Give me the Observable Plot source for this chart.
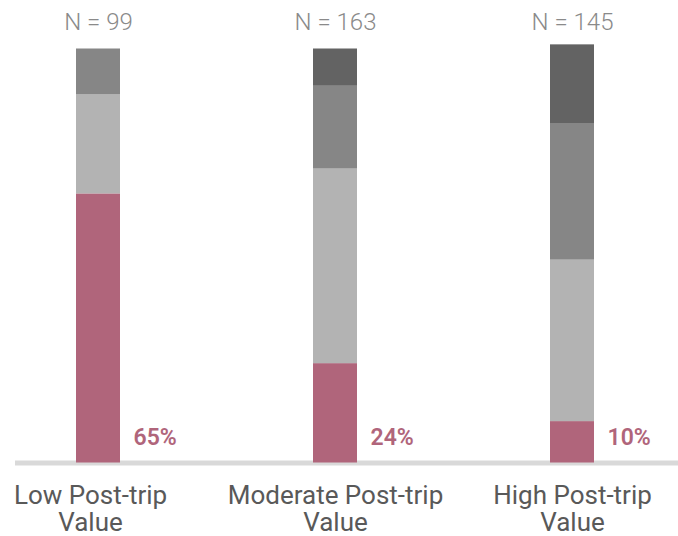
<!DOCTYPE html>
<html><head><meta charset="utf-8">
<script src="https://cdn.jsdelivr.net/npm/d3@7"></script>
<script src="https://cdn.jsdelivr.net/npm/@observablehq/plot@0.6"></script>
<style>html,body{margin:0;padding:0;background:#fff}</style>
</head><body><div id="chart"></div>
<script>
const categories = ["Low Post-trip Value", "Moderate Post-trip Value", "High Post-trip Value"];
const axisLabels = ["Low Post-trip\nValue", "Moderate Post-trip\nValue", "High Post-trip\nValue"];
const sampleSizes = [99, 163, 145];
const seriesNames = ["s1", "s2", "s3", "s4"];
const seriesColors = ["#b0657b", "#b3b3b3", "#868686", "#636363"];
const s1 = [65, 24, 10];
const s2 = [24, 47, 39];
const s3 = [11, 20, 33];
const s4 = [0, 9, 19];

const seriesValues = [s1, s2, s3, s4];
const rows = [];
seriesValues.forEach((vals, si) => {
  vals.forEach((v, ci) => rows.push({category: categories[ci], series: seriesNames[si], value: v}));
});
const pinkRows = categories.map((c, i) => ({category: c, value: s1[i]}));
const nRows = categories.map((c, i) => ({category: c, n: sampleSizes[i]}));
const labelRows = categories.map((c, i) => ({category: c, label: axisLabels[i]}));

const W = 678, H = 536;
const labelStyle = {x: "category", frameAnchor: "bottom", text: "label", dy: 21.5,
  lineAnchor: "top", lineHeight: 1.04, fill: "#595959", fontSize: 26, fontWeight: 400};
const chart = Plot.plot({
  width: W,
  height: H,
  marginTop: 48.5,
  marginBottom: 73.5,
  marginLeft: 27.4,
  marginRight: 35.4,
  style: {fontFamily: "Roboto, sans-serif", background: "#fff"},
  x: {domain: categories, paddingInner: 0.815, paddingOuter: 0.2, axis: null},
  y: {domain: [0, 100], axis: null},
  color: {domain: seriesNames, range: seriesColors},
  marks: [
    Plot.ruleY([0], {stroke: "#d9d9d9", strokeWidth: 5, insetLeft: -12.4, insetRight: -35.4}),
    Plot.barY(rows, {x: "category", y: "value", fill: "series"}),
    Plot.text(pinkRows, {x: "category", y: 0, text: d => d.value + "%", dx: 35, dy: -18.5,
      textAnchor: "start", lineAnchor: "bottom", fill: "#b0657b", fontSize: 23, fontWeight: 600}),
    Plot.text(nRows, {x: "category", frameAnchor: "top", text: d => "N = " + d.n, dy: -19.5,
      lineAnchor: "bottom", fill: "#8a8a8a", fontSize: 24, fontWeight: 300}),
    Plot.text(labelRows.slice(0, 1), {...labelStyle, dx: -8}),
    Plot.text(labelRows.slice(1), labelStyle)
  ]
});
document.getElementById("chart").appendChild(chart);
</script>
</body></html>
